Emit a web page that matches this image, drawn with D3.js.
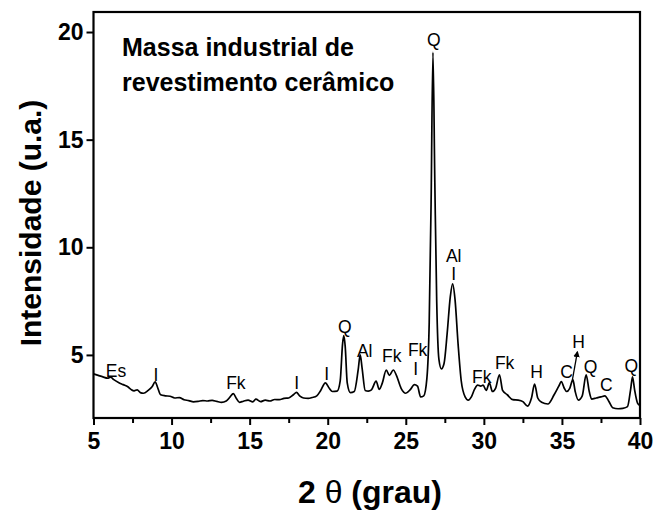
<!DOCTYPE html>
<html>
<head>
<meta charset="utf-8">
<script src="https://cdn.jsdelivr.net/npm/d3@7"></script>
<style>
  body { margin: 0; background: #fff; }
  svg { display: block; font-family: "Liberation Sans", Arial, sans-serif; }
</style>
</head>
<body>
<svg id="chart" width="660" height="510"></svg>
<script>
// XRD pattern
const twoTheta = [
  5.0, 5.3, 5.6, 5.9, 6.1, 6.3, 6.6, 6.9, 7.2, 7.4, 7.6, 7.8, 8.0, 8.2, 8.5, 8.75, 8.95, 9.1, 9.3, 9.6,
  9.9, 10.2, 10.5, 10.8, 11.1, 11.4, 11.7, 12.0, 12.3, 12.6, 12.9, 13.2, 13.5, 13.75, 13.95, 14.15, 14.35, 14.6, 14.9, 15.2,
  15.4, 15.7, 16.0, 16.3, 16.6, 16.9, 17.2, 17.5, 17.8, 18.0, 18.2, 18.45, 18.75, 19.0, 19.3, 19.55, 19.85, 20.1, 20.3, 20.6,
  20.8, 20.95, 21.03, 21.12, 21.25, 21.45, 21.7, 21.95, 22.08, 22.2, 22.4, 22.6, 22.8, 23.1, 23.3, 23.5, 23.75, 23.95, 24.2, 24.4,
  24.7, 25.0, 25.3, 25.55, 25.75, 25.95, 26.15, 26.35, 26.5, 26.62, 26.74, 26.86, 26.98, 27.12, 27.28, 27.45, 27.65, 27.85, 28.0, 28.15,
  28.35, 28.55, 28.8, 29.0, 29.2, 29.4, 29.6, 29.8, 29.95, 30.15, 30.35, 30.55, 30.75, 31.0, 31.2, 31.5, 31.85, 32.2, 32.5, 32.8,
  33.05, 33.25, 33.45, 33.7, 34.1, 34.5, 34.8, 34.96, 35.15, 35.3, 35.5, 35.7, 35.85, 36.05, 36.3, 36.55, 36.75, 36.9, 37.2, 37.5,
  37.75, 38.0, 38.25, 38.6, 38.9, 39.2, 39.4, 39.52, 39.65, 39.85, 40.0
];
const intensity = [
  4.12, 4.05, 3.98, 3.92, 3.97, 3.85, 3.72, 3.62, 3.52, 3.40, 3.33, 3.38, 3.25, 3.22, 3.35, 3.52, 3.75, 3.50, 3.15, 3.10,
  3.08, 3.00, 3.02, 2.92, 2.88, 2.82, 2.84, 2.88, 2.86, 2.89, 2.84, 2.80, 2.86, 3.05, 3.20, 2.98, 2.80, 2.85, 2.90, 2.82,
  2.95, 2.83, 2.90, 2.86, 2.93, 2.92, 2.98, 3.00, 3.15, 3.26, 3.10, 3.00, 2.98, 3.02, 3.10, 3.35, 3.70, 3.45, 3.30, 3.32,
  3.80, 5.50, 5.90, 5.40, 3.70, 3.25, 3.30, 4.30, 5.00, 4.40, 3.35, 3.32, 3.38, 3.78, 3.40, 3.70, 4.30, 4.05, 4.30, 4.05,
  3.45, 3.22, 3.40, 3.62, 3.55, 3.05, 3.10, 3.90, 6.50, 12.0, 19.05, 13.0, 7.50, 4.80, 4.35, 4.60, 6.00, 7.70, 8.30, 7.60,
  5.50, 3.80, 3.05, 2.90, 3.05, 3.40, 3.60, 3.55, 3.60, 3.35, 3.70, 3.30, 3.45, 4.08, 3.35, 3.15, 2.92, 2.90, 2.83, 2.62,
  3.00, 3.65, 3.00, 2.80, 2.72, 3.15, 3.55, 3.76, 3.45, 3.30, 3.45, 3.85, 3.30, 2.90, 3.10, 4.07, 3.30, 2.95, 3.00, 3.05,
  3.10, 2.85, 2.55, 2.50, 2.52, 2.60, 3.40, 3.98, 3.40, 2.75, 2.65
];

// phase labels: text, 2θ, intensity at the label baseline
const peakText = ["Es", "I", "Fk", "I", "I", "Q", "Al", "Fk", "Fk", "I", "Q", "Al", "I", "Fk", "Fk", "H", "C", "H", "Q", "C", "Q"];
const peakX    = [6.44, 9.0, 14.12, 18.02, 19.94, 21.09, 22.37, 24.1, 25.76, 25.63, 26.79, 28.07, 28.07, 29.86, 31.33, 33.37, 35.29, 36.06, 36.83, 37.85, 39.45];
const peakY    = [3.98, 3.79, 3.42, 3.42, 3.84, 6.02, 4.91, 4.67, 4.95, 4.07, 19.35, 9.32, 8.48, 3.70, 4.35, 3.93, 3.93, 5.33, 4.16, 3.33, 4.21];

// arrow pointing from the small peak up to the second "H"
const arrowX = [35.67, 35.99];
const arrowY = [3.84, 5.14];

const xTicks = [5, 10, 15, 20, 25, 30, 35, 40];
const xMinor = [7.5, 12.5, 17.5, 22.5, 27.5, 32.5, 37.5];
const yTicks = [5, 10, 15, 20];

const titleLines = ["Massa industrial de", "revestimento cerâmico"];

const svg = d3.select('#chart');
const mLeft = 93.5, mRight = 640, mTop = 12, mBottom = 418;

const x = d3.scaleLinear().domain([5, 40]).range([mLeft, mRight]);
const y = d3.scaleLinear().domain([2.07, 20.93]).range([mBottom, mTop]);

// minor ticks on x
svg.append('g')
  .attr('transform', `translate(0,${mBottom})`)
  .call(d3.axisBottom(x).tickValues(xMinor).tickSize(5).tickFormat(''))
  .call(g => g.select('.domain').remove())
  .call(g => g.selectAll('line').attr('stroke-width', 2));

const xAxis = svg.append('g')
  .attr('transform', `translate(0,${mBottom})`)
  .call(d3.axisBottom(x).tickValues(xTicks).tickSize(7).tickPadding(8).tickFormat(d3.format('d')));
xAxis.select('.domain').remove();
xAxis.selectAll('line').attr('stroke-width', 2);
xAxis.selectAll('text')
  .attr('font-family', '"Liberation Sans", Arial, sans-serif')
  .attr('font-size', 23).attr('font-weight', 'bold').attr('fill', '#000');

const yAxis = svg.append('g')
  .attr('transform', `translate(${mLeft},0)`)
  .call(d3.axisLeft(y).tickValues(yTicks).tickSize(7).tickPadding(3).tickFormat(d3.format('d')));
yAxis.select('.domain').remove();
yAxis.selectAll('line').attr('stroke-width', 2);
yAxis.selectAll('text')
  .attr('font-family', '"Liberation Sans", Arial, sans-serif')
  .attr('font-size', 23).attr('font-weight', 'bold').attr('fill', '#000');

// frame
svg.append('rect')
  .attr('x', mLeft).attr('y', mTop)
  .attr('width', mRight - mLeft).attr('height', mBottom - mTop)
  .attr('fill', 'none').attr('stroke', '#000').attr('stroke-width', 2.2);

// pattern
const pts = twoTheta.map((t, i) => [t, intensity[i]]);
const line = d3.line()
  .x(d => x(d[0]))
  .y(d => y(d[1]))
  .curve(d3.curveMonotoneX);

svg.append('path')
  .datum(pts)
  .attr('d', line)
  .attr('fill', 'none')
  .attr('stroke', '#000')
  .attr('stroke-width', 1.7)
  .attr('stroke-linejoin', 'round');

// labels
svg.append('g').selectAll('text')
  .data(peakText)
  .enter()
  .append('text')
  .attr('x', (d, i) => x(peakX[i]))
  .attr('y', (d, i) => y(peakY[i]))
  .attr('text-anchor', 'middle')
  .attr('font-size', 17.5)
  .attr('fill', '#000')
  .text(d => d);

svg.append('defs').append('marker')
  .attr('id', 'head')
  .attr('viewBox', '0 0 10 10')
  .attr('refX', 8).attr('refY', 5)
  .attr('markerWidth', 5).attr('markerHeight', 5)
  .attr('orient', 'auto')
  .append('path').attr('d', 'M0,0 L10,5 L0,10 z').attr('fill', '#000');

svg.append('line')
  .attr('x1', x(arrowX[0])).attr('y1', y(arrowY[0]))
  .attr('x2', x(arrowX[1])).attr('y2', y(arrowY[1]))
  .attr('stroke', '#000').attr('stroke-width', 1.3)
  .attr('marker-end', 'url(#head)');

// title inside plot
svg.append('g').selectAll('text')
  .data(titleLines)
  .enter()
  .append('text')
  .attr('x', 122)
  .attr('y', (d, i) => 56 + i * 35)
  .attr('font-size', 25)
  .attr('font-weight', 'bold')
  .text(d => d);

// axis titles
svg.append('text')
  .attr('transform', `translate(41,${(mTop + mBottom) / 2 + 8}) rotate(-90)`)
  .attr('text-anchor', 'middle')
  .attr('font-size', 30)
  .attr('font-weight', 'bold')
  .text('Intensidade (u.a.)');

const xt = svg.append('text')
  .attr('x', 370).attr('y', 503)
  .attr('text-anchor', 'middle')
  .attr('font-size', 32)
  .attr('font-weight', 'bold');
xt.append('tspan').text('2 ');
xt.append('tspan').attr('font-weight', 'normal').text('θ');
xt.append('tspan').text(' (grau)');
</script>
</body>
</html>
